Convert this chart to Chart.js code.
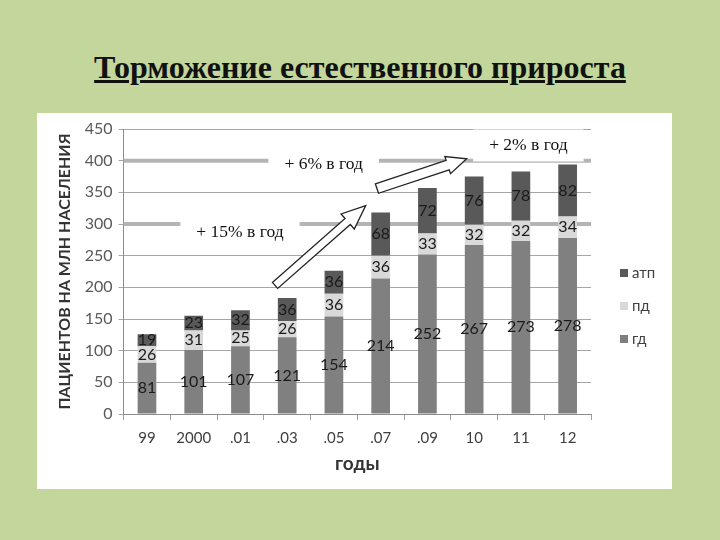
<!DOCTYPE html>
<html>
<head>
<meta charset="utf-8">
<script src="https://cdn.jsdelivr.net/npm/chart.js@4.4.0/dist/chart.umd.min.js"></script>
<style>
  html, body { margin: 0; padding: 0; width: 720px; height: 540px; overflow: hidden; background: #c3d69b; }
  #title { position: absolute; left: 0; top: 49px; width: 720px; text-align: center;
           font: bold 32px "Liberation Serif", serif; color: #111; text-decoration: underline; }
  #panel { position: absolute; left: 37px; top: 113px; width: 635px; height: 376px; background: #fff; }
</style>
</head>
<body>
<div id="title">Торможение естественного прироста</div>
<div id="panel"><canvas id="c" width="635" height="376"></canvas></div>
<script>
const years = ["99", "2000", ".01", ".03", ".05", ".07", ".09", "10", "11", "12"];
const gd = [81, 101, 107, 121, 154, 214, 252, 267, 273, 278];
const pd = [26, 31, 25, 26, 36, 36, 33, 32, 32, 34];
const atp = [19, 23, 32, 36, 36, 68, 72, 76, 78, 82];
const seriesNames = ["гд", "пд", "атп"];
const seriesColors = ["#808080", "#d9d9d9", "#595959"];
const trendTexts = ["+ 15% в год", "+ 6% в год", "+ 2% в год"];
const plateauLevels = [300, 400];

// positions of the hand drawn notes, in axis units (category index, value)
const notePos = [[1.99, 287], [3.78, 394], [8.16, 424]];
const arrows = [
  { from: [2.74, 203], to: [4.68, 329], shaft: 4, head: 10, len: 24 },
  { from: [4.92, 356], to: [6.84, 403], shaft: 5, head: 9, len: 20 }
];

Chart.defaults.font.family = "Lato, 'Open Sans', sans-serif";

const notesPlugin = {
  id: "notes",
  beforeDatasetsDraw(chart) {
    const { ctx, chartArea, scales } = chart;
    ctx.save();
    ctx.strokeStyle = "#b4b4b4";
    ctx.lineWidth = 4;
    plateauLevels.forEach((v) => {
      const y = scales.y.getPixelForValue(v);
      ctx.beginPath();
      ctx.moveTo(chartArea.left, y);
      ctx.lineTo(chartArea.right, y);
      ctx.stroke();
    });
    ctx.restore();
  },
  afterDatasetsDraw(chart) {
    const { ctx } = chart;
    ctx.save();
    ctx.font = "16px Lato, sans-serif";
    ctx.fillStyle = "#1a1a1a";
    ctx.textAlign = "center";
    ctx.textBaseline = "middle";
    chart.data.datasets.forEach((ds, i) => {
      chart.getDatasetMeta(i).data.forEach((bar, j) => {
        ctx.fillText(ds.data[j], bar.x, (bar.y + bar.base) / 2);
      });
    });
    ctx.restore();
  },
  afterDraw(chart) {
    const { ctx, scales, chartArea } = chart;
    const px = (p) => [scales.x.getPixelForValue(p[0]), scales.y.getPixelForValue(p[1])];
    ctx.save();

    // text notes on white boxes
    ctx.font = "17.5px 'Liberation Serif', serif";
    ctx.textAlign = "center";
    ctx.textBaseline = "middle";
    trendTexts.forEach((t, i) => {
      const [x, y] = px(notePos[i]);
      const w = ctx.measureText(t).width + 32;
      ctx.fillStyle = "#fff";
      ctx.fillRect(x - w / 2, y - 16, w, 32);
      ctx.fillStyle = "#111";
      ctx.fillText(t, x, y);
    });

    // block arrows
    arrows.forEach((a) => {
      const [x1, y1] = px(a.from);
      const [x2, y2] = px(a.to);
      const L = Math.hypot(x2 - x1, y2 - y1);
      ctx.save();
      ctx.translate(x1, y1);
      ctx.rotate(Math.atan2(y2 - y1, x2 - x1));
      ctx.beginPath();
      ctx.moveTo(0, -a.shaft);
      ctx.lineTo(L - a.len, -a.shaft);
      ctx.lineTo(L - a.len, -a.head);
      ctx.lineTo(L, 0);
      ctx.lineTo(L - a.len, a.head);
      ctx.lineTo(L - a.len, a.shaft);
      ctx.lineTo(0, a.shaft);
      ctx.closePath();
      ctx.fillStyle = "#fff";
      ctx.fill();
      ctx.strokeStyle = "#222";
      ctx.lineWidth = 1.3;
      ctx.stroke();
      ctx.restore();
    });

    // legend, top entry is the last series
    ctx.font = "15px Lato, sans-serif";
    ctx.textAlign = "left";
    ctx.textBaseline = "middle";
    const n = chart.data.datasets.length;
    for (let k = 0; k < n; k++) {
      const ds = chart.data.datasets[n - 1 - k];
      const y = chartArea.top + 144 + k * 33;
      const x = chartArea.right + 29;
      ctx.fillStyle = ds.backgroundColor;
      ctx.fillRect(x, y - 4, 8, 8);
      ctx.fillStyle = "#404040";
      ctx.fillText(ds.label, x + 12, y);
    }
    ctx.restore();
  }
};

new Chart(document.getElementById("c"), {
  type: "bar",
  data: {
    labels: years,
    datasets: [
      { label: seriesNames[0], data: gd, backgroundColor: seriesColors[0] },
      { label: seriesNames[1], data: pd, backgroundColor: seriesColors[1] },
      { label: seriesNames[2], data: atp, backgroundColor: seriesColors[2] }
    ]
  },
  options: {
    responsive: false,
    animation: false,
    layout: { padding: { left: 14, top: 16, right: 81, bottom: 10 } },
    datasets: { bar: { categoryPercentage: 1, barPercentage: 0.4 } },
    plugins: { legend: { display: false }, tooltip: { enabled: false } },
    scales: {
      x: {
        stacked: true,
        afterFit: (s) => { s.height = 65; },
        grid: { drawOnChartArea: false, tickLength: 6, color: "#a0a0a0" },
        border: { color: "#8c8c8c" },
        ticks: { color: "#404040", font: { size: 15 }, padding: 9 },
        title: { display: true, text: "годы", color: "#333", font: { size: 19, weight: "bold" } }
      },
      y: {
        stacked: true,
        min: 0,
        max: 450,
        afterFit: (s) => { s.width = 72.6; },
        grid: { color: "#a6a6a6", tickLength: 5 },
        border: { color: "#8c8c8c" },
        ticks: { stepSize: 50, color: "#595959", font: { size: 16 }, padding: 6 },
        title: { display: true, text: "ПАЦИЕНТОВ НА МЛН НАСЕЛЕНИЯ", color: "#333", font: { size: 16, weight: "bold" } }
      }
    }
  },
  plugins: [notesPlugin]
});
</script>
</body>
</html>
